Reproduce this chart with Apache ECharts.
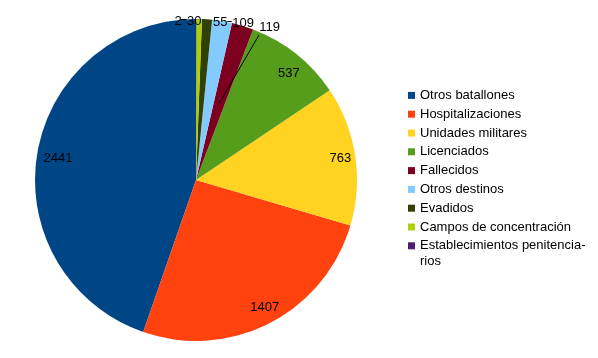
<!DOCTYPE html>
<html><head><meta charset="utf-8">
<script src="https://cdn.jsdelivr.net/npm/echarts@6/dist/echarts.min.js"></script>
<style>html,body{margin:0;padding:0;background:#fff}#c{width:598px;height:358px}</style>
</head><body><div id="c"></div>
<script>
const categories = ['Otros batallones','Hospitalizaciones','Unidades militares','Licenciados','Fallecidos','Otros destinos','Evadidos','Campos de concentración','Establecimientos penitenciarios'];
const values = [2441, 1407, 763, 537, 119, 109, 55, 30, 2];
const colors = ['#004586','#ff420e','#ffd320','#579d1c','#7e0021','#83caff','#314004','#aecf00','#4b1f6f'];

const FONT = '"Liberation Sans", Arial, sans-serif';
const CENTER = [196, 180];
const R = 161;
// label nudges (px) to follow the original placement
const rimShift = {0: [6, 3], 1: [2, -2], 2: [0, 1], 3: [2, 8]};
const topShift = {4: [26.3, 3.5], 5: [20.6, 4.5], 6: [13, 5], 7: [-5, 4.5], 8: [-18, 4.5]};

const data = categories.map((n, i) => ({name: n, value: values[i]}));
const base = {type: 'pie', center: CENTER, startAngle: 90, clockwise: false, silent: true,
  animation: false, emphasis: {disabled: true}, legendHoverLink: false, avoidLabelOverlap: false};
const clear = {color: 'rgba(0,0,0,0)'};
const lbl = {fontSize: 13, color: '#000', fontFamily: FONT, formatter: '{c}'};

const chart = echarts.init(document.getElementById('c'), null, {renderer: 'canvas'});
chart.setOption({
  animation: false,
  legend: [{
    orient: 'vertical', left: 408, top: 88, padding: 0, itemWidth: 7, itemHeight: 7, itemGap: 4,
    icon: 'rect', selectedMode: false,
    textStyle: {fontSize: 13, fontFamily: FONT, color: '#000', lineHeight: 14.8},
    formatter: n => n === categories[8] ? 'Establecimientos penitencia-' : n,
    data: categories
  }, {
    orient: 'vertical', left: 408, top: 253.7, padding: 0, itemWidth: 7, itemHeight: 7,
    selectedMode: false,
    textStyle: {fontSize: 13, fontFamily: FONT, color: '#000', lineHeight: 14.8},
    formatter: () => 'rios',
    data: [{name: categories[8], icon: 'none'}]
  }],
  series: [
    Object.assign({}, base, {
      name: 'main', radius: [0, R],
      data: data.map((d, i) => Object.assign({}, d, {itemStyle: {color: colors[i]}})),
      label: {show: false}, labelLine: {show: false}
    }),
    Object.assign({}, base, {
      name: 'rim', radius: [125, R], itemStyle: clear,
      data: data.map((d, i) => Object.assign({}, d, {label: {show: i < 4}})),
      label: Object.assign({position: 'inside'}, lbl), labelLine: {show: false},
      labelLayout: p => { const s = rimShift[p.dataIndex]; return s ? {dx: s[0], dy: s[1]} : {}; }
    }),
    Object.assign({}, base, {
      name: 'top', radius: [150, 170], itemStyle: clear,
      data: data.map((d, i) => Object.assign({}, d, {label: {show: i >= 4}})),
      label: Object.assign({position: 'inside'}, lbl), labelLine: {show: false},
      labelLayout: p => { const s = topShift[p.dataIndex]; return s ? {dx: s[0], dy: s[1]} : {}; }
    })
  ]
});

// leader lines, anchored on the library's own sector layout (added straight to the renderer)
(function () {
  const sd = chart.getModel().getSeriesByIndex(0).getData();
  function pt(idx, frac) {
    const L = sd.getItemLayout(idx);
    const m = (L.startAngle + L.endAngle) / 2;
    return [L.cx + L.r * frac * Math.cos(m), L.cy + L.r * frac * Math.sin(m)];
  }
  const zr = chart.getZr();
  const add = (x1, y1, x2, y2) => zr.add(new echarts.graphic.Line({
    z: 100, silent: true, shape: {x1, y1, x2, y2}, style: {stroke: '#000', lineWidth: 1}}));
  const a = pt(4, 0.5), b = pt(4, 1);
  add(a[0], a[1], b[0] + 16.4, b[1] + 9.1);
  const e8 = pt(8, 1), y8 = Math.round(e8[1]) + 0.5;
  add(e8[0] - 15.5, y8, e8[0] - 9.5, y8);
  const e6 = pt(6, 1), y6 = Math.round(e6[1] + 1.9) + 0.5;
  add(e6[0] + 20.3, y6, e6[0] + 24.7, y6);
})();
</script></body></html>
